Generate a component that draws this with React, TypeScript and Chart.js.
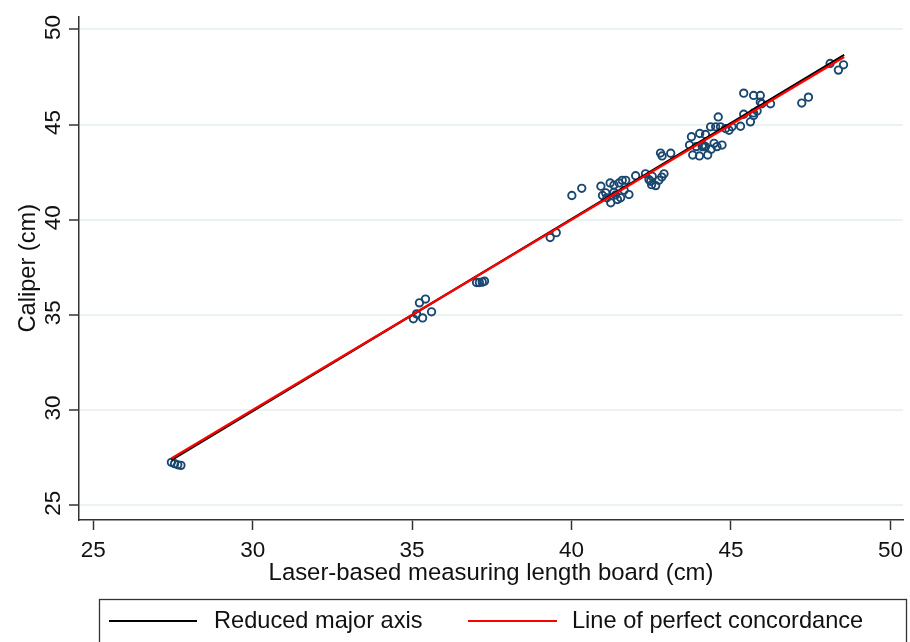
import React, { useEffect, useRef } from 'react';
import { Chart, registerables } from 'chart.js';
Chart.register(...registerables);

// Axis ticks
const xTicks = [25, 30, 35, 40, 45, 50];
const yTicks = [25, 30, 35, 40, 45, 50];

// Observations: laser-based board (x) vs caliper (y), in cm
const xLaser = [
  27.45, 27.55, 27.65, 27.75,
  35.04, 35.14, 35.23, 35.42, 35.33, 35.61,
  37.02, 37.11, 37.2, 37.27,
  39.33, 39.52,
  40.01, 40.32, 40.92, 41.21, 40.97, 41.07, 41.23, 41.33, 41.44, 41.49, 41.59, 41.7, 41.8, 41.54, 41.33, 41.11,
  41.38, 41.65,
  42.01, 42.32, 42.48, 42.51, 42.64, 42.74, 42.83, 42.9, 42.79, 42.84, 42.53, 42.43,
  43.76, 44.02, 43.7, 43.91, 44.12, 44.17, 43.11, 43.8, 44.01, 44.27, 44.1, 44.2, 44.38, 44.47,
  44.6, 44.67, 44.52, 44.36, 44.83, 44.94, 44.56, 44.72, 44.2, 45.03, 45.3,
  45.4, 45.71, 45.92, 45.92, 46.24, 45.4, 45.71, 45.61, 45.71, 45.82, 45.97,
  47.22, 47.43, 48.11, 48.37, 48.53,
];
const yCaliper = [
  27.25, 27.18, 27.12, 27.09,
  34.79, 35.05, 35.63, 35.83, 34.84, 35.16,
  36.7, 36.7, 36.72, 36.77,
  39.06, 39.32,
  41.27, 41.65, 41.76, 41.93, 41.27, 41.41, 40.89, 41.44, 41.06, 41.93, 42.07, 42.07, 41.32, 41.15, 41.82, 41.15,
  41.3, 41.55,
  42.31, 42.41, 42.02, 41.84, 41.79, 42.07, 42.24, 42.41, 43.5, 43.35, 42.28, 42.1,
  44.36, 44.53, 43.92, 43.84, 43.92, 43.84, 43.49, 43.4, 43.35, 43.4, 43.84, 43.84, 43.7, 44.01,
  45.4, 44.88, 44.88, 44.88, 44.79, 44.7, 43.84, 43.92, 44.48, 44.88, 44.91,
  46.65, 46.53, 46.53, 46.18, 46.09, 45.54, 45.48, 45.14, 45.61, 45.71, 46.09,
  46.13, 46.44, 48.21, 47.86, 48.14,
];

// Fitted lines
const lineX = [27.45, 48.55];
const rmaY = [27.37, 48.66];
const concordY = [27.45, 48.55];

const seriesLabels = ['Observations', 'Reduced major axis', 'Line of perfect concordance'];
const xTitle = 'Laser-based measuring length board (cm)';
const yTitle = 'Caliper (cm)';

const FONT = "'Liberation Sans', Arial, Helvetica, sans-serif";

const legendPlugin = {
  id: 'boxLegend',
  afterDraw(chart: any) {
    const ctx = chart.ctx;
    ctx.save();
    ctx.strokeStyle = '#333333';
    ctx.lineWidth = 1.3;
    ctx.strokeRect(99.5, 599.5, 807, 70);
    const items = [
      { ds: chart.data.datasets[1], x0: 109, x1: 197, tx: 214 },
      { ds: chart.data.datasets[2], x0: 468, x1: 557, tx: 572 },
    ];
    const y = 621;
    ctx.font = `23.6px ${FONT}`;
    ctx.textBaseline = 'middle';
    ctx.textAlign = 'left';
    for (const it of items) {
      ctx.strokeStyle = it.ds.borderColor;
      ctx.lineWidth = 2.2;
      ctx.beginPath();
      ctx.moveTo(it.x0, y);
      ctx.lineTo(it.x1, y);
      ctx.stroke();
      ctx.fillStyle = '#111111';
      ctx.fillText(it.ds.label, it.tx, y);
    }
    ctx.restore();
  },
};

export default function App() {
  const ref = useRef<HTMLCanvasElement | null>(null);
  useEffect(() => {
    if (!ref.current) return;
    const points = xLaser.map((x, i) => ({ x, y: yCaliper[i] }));
    const rma = lineX.map((x, i) => ({ x, y: rmaY[i] }));
    const conc = lineX.map((x, i) => ({ x, y: concordY[i] }));
    const chart = new Chart(ref.current, {
      type: 'scatter',
      data: {
        datasets: [
          {
            label: seriesLabels[0],
            data: points,
            pointRadius: 3.7,
            pointBorderWidth: 1.9,
            borderColor: '#1a476f',
            backgroundColor: 'rgba(0,0,0,0)',
            order: 3,
          },
          {
            label: seriesLabels[1],
            data: rma,
            showLine: true,
            borderColor: '#000000',
            borderWidth: 2.2,
            pointRadius: 0,
            order: 2,
          },
          {
            label: seriesLabels[2],
            data: conc,
            showLine: true,
            borderColor: '#ff0000',
            borderWidth: 2.2,
            pointRadius: 0,
            order: 1,
          },
        ],
      } as any,
      options: {
        responsive: false,
        animation: false,
        layout: { padding: { top: 12, right: 4, bottom: 0, left: 0 } },
        plugins: { legend: { display: false }, tooltip: { enabled: false } },
        scales: {
          x: {
            type: 'linear',
            min: 24.553,
            max: 50.397,
            afterBuildTicks: (s: any) => { s.ticks = xTicks.map((v) => ({ value: v })); },
            afterFit: (s: any) => { s.height = 122; },
            grid: {
              drawOnChartArea: false,
              drawTicks: true,
              tickLength: 10,
              tickColor: '#333333',
              tickWidth: 1.5,
            },
            border: { display: true, color: '#333333', width: 1.5 },
            ticks: {
              padding: 7,
              color: '#111111',
              font: { family: FONT, size: 22.5 },
              maxRotation: 0,
              autoSkip: false,
            },
            title: {
              display: true,
              text: xTitle,
              color: '#111111',
              font: { family: FONT, size: 23.9 },
              padding: { top: 0, bottom: 54 },
            },
          },
          y: {
            type: 'linear',
            min: 24.219,
            max: 50.677,
            afterBuildTicks: (s: any) => { s.ticks = yTicks.map((v) => ({ value: v })); },
            afterFit: (s: any) => { s.width = 79; },
            grid: {
              drawOnChartArea: true,
              color: '#eaf2f3',
              lineWidth: 2,
              drawTicks: true,
              tickLength: 10,
              tickColor: '#333333',
              tickWidth: 1.5,
            },
            border: { display: true, color: '#333333', width: 1.5 },
            ticks: {
              padding: 3,
              labelOffset: -2,
              color: '#111111',
              font: { family: FONT, size: 22.5 },
              minRotation: 90,
              maxRotation: 90,
              crossAlign: 'center',
              autoSkip: false,
            },
            title: {
              display: true,
              text: yTitle,
              color: '#111111',
              font: { family: FONT, size: 23.6 },
              padding: { top: 14, bottom: 0 },
            },
          },
        },
      } as any,
      plugins: [legendPlugin],
    });
    return () => chart.destroy();
  }, []);
  return (
    <div style={{ position: 'fixed', left: 0, top: 0, width: 910, height: 642, background: '#ffffff' }}>
      <canvas ref={ref} width={910} height={642} style={{ display: 'block', width: 910, height: 642 }} />
    </div>
  );
}
